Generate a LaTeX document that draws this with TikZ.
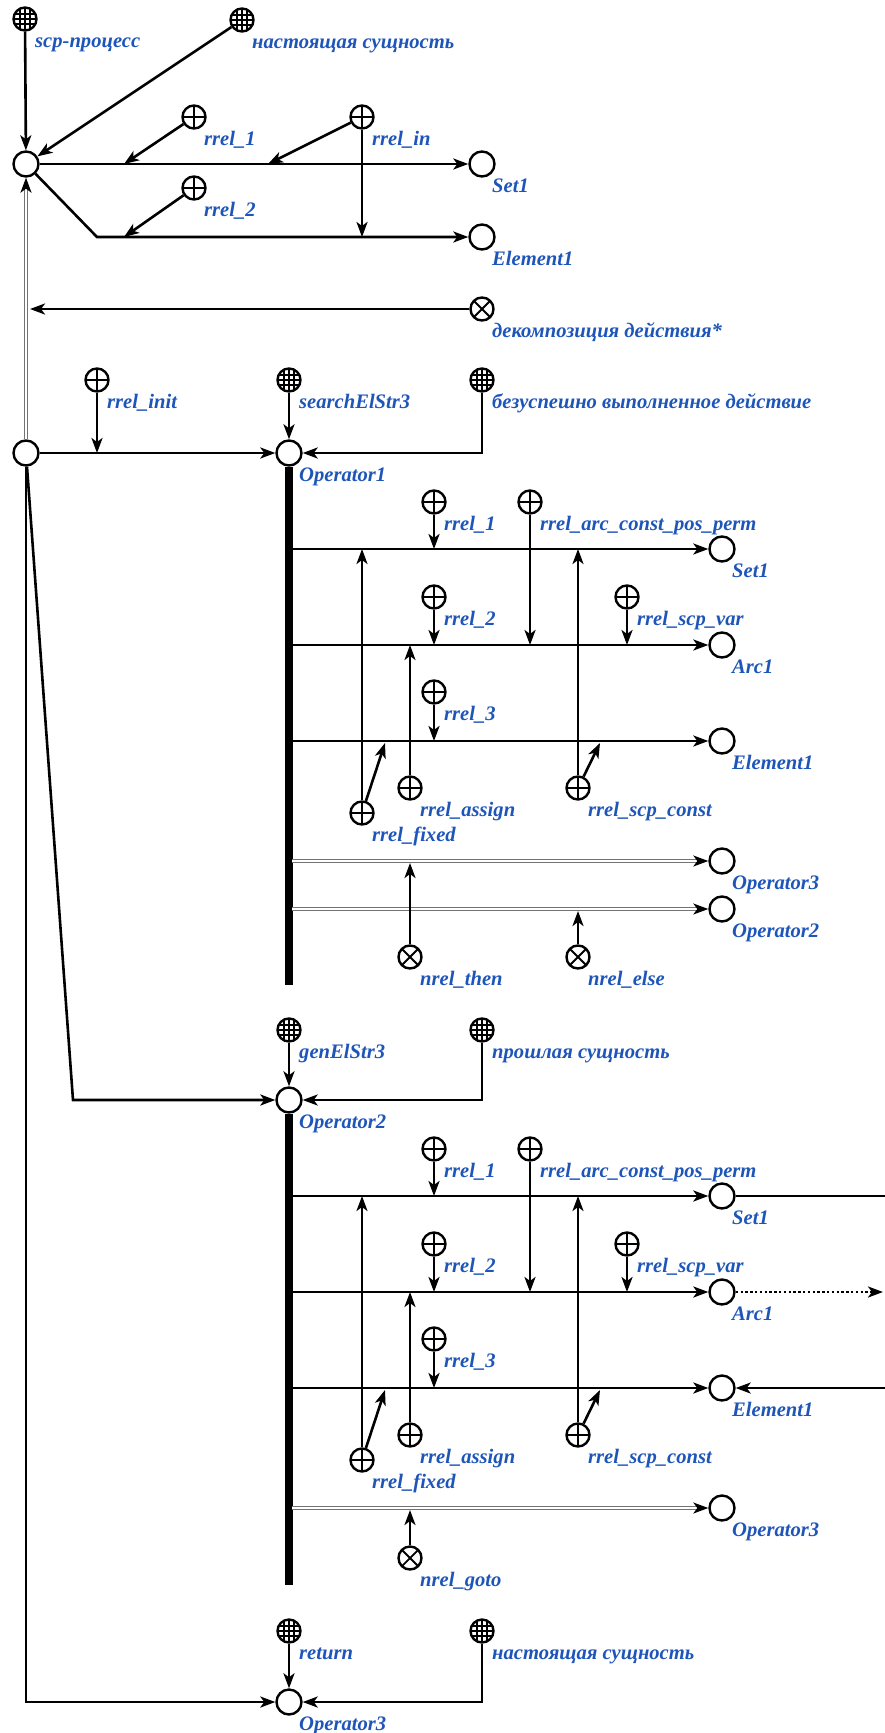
\documentclass[tikz,border=0pt]{standalone}
\usepackage{fontspec}
\setmainfont{Liberation Serif}
\usetikzlibrary{arrows.meta,calc}
\definecolor{scblue}{RGB}{30,85,185}
\newcommand\SC[5]{\node[#1] (#2) at (#3,#4) {}; \node[lbl] (#2-l) at ([shift={(10,28)}]#2.center) {#5};}
\begin{document}
\begin{tikzpicture}[x=1pt,y=-1pt,
  >={Stealth[length=15pt,width=11pt,inset=4pt]},
  arc/.style={line width=2.6pt,->},
  ln/.style={line width=2.6pt},
  dbl/.style={draw=black!55, line width=1.5pt, double=white, double distance=1.8pt,
     -{Stealth[length=15pt,width=11pt,inset=4pt,color=black]}},
  bus/.style={line width=7.5pt},
  dots/.style={line width=2.6pt, dash pattern=on 2.4pt off 2.4pt, ->},
  vnode/.style={circle, draw, line width=2.4pt, fill=white, minimum size=25pt, inner sep=0pt},
  cls/.style={vnode, minimum size=23pt, path picture={
     \foreach \d in {-5,0,5}{
       \draw[line width=1.1pt] ([xshift=\d pt]path picture bounding box.north) -- ([xshift=\d pt]path picture bounding box.south);
       \draw[line width=1.1pt] ([yshift=\d pt]path picture bounding box.west) -- ([yshift=\d pt]path picture bounding box.east);}}},
  role/.style={vnode, minimum size=23pt, path picture={
       \draw[line width=1.8pt] (path picture bounding box.north) -- (path picture bounding box.south);
       \draw[line width=1.8pt] (path picture bounding box.west) -- (path picture bounding box.east);}},
  nrole/.style={vnode, minimum size=23pt, path picture={
       \draw[line width=1.8pt] (path picture bounding box.north west) -- (path picture bounding box.south east);
       \draw[line width=1.8pt] (path picture bounding box.south west) -- (path picture bounding box.north east);}},
  lbl/.style={font=\fontsize{20.6}{23}\selectfont\bfseries\itshape, text=scblue, inner sep=0pt, anchor=base west}
]
\useasboundingbox (0,0) rectangle (884,1733);
% ---------- top ----------
\SC{cls}{scpproc}{25}{19}{scp-процесс}
\SC{cls}{cur1}{242}{20}{настоящая сущность}
\node[vnode] (proc) at (26,164) {};
\SC{role}{r1a}{194}{117}{rrel\_1}
\SC{role}{rin}{362}{117}{rrel\_in}
\SC{vnode}{set0}{482}{164}{Set1}
\SC{role}{r2a}{194}{188}{rrel\_2}
\SC{vnode}{el0}{482}{237}{Element1}
\SC{nrole}{decomp}{482}{309}{декомпозиция действия*}
\node[vnode] (dec) at (26,453) {};
% ---------- block 1 ----------
\SC{role}{rinit}{97}{380}{rrel\_init}
\SC{cls}{sES}{289}{380}{searchElStr3}
\SC{cls}{fail}{482}{380}{безуспешно выполненное действие}
\SC{vnode}{op1}{289}{453}{Operator1}
\SC{role}{b1r1}{434}{502}{rrel\_1}
\SC{role}{b1rac}{530}{502}{rrel\_arc\_const\_pos\_perm}
\SC{vnode}{b1set}{722}{549}{Set1}
\SC{role}{b1r2}{434}{597}{rrel\_2}
\SC{role}{b1rsv}{627}{597}{rrel\_scp\_var}
\SC{vnode}{b1arc}{722}{645}{Arc1}
\SC{role}{b1r3}{434}{692}{rrel\_3}
\SC{vnode}{b1el}{722}{741}{Element1}
\SC{role}{b1rfix}{362}{813}{rrel\_fixed}
\SC{role}{b1rasg}{410}{788}{rrel\_assign}
\SC{role}{b1rsc}{578}{788}{rrel\_scp\_const}
\SC{vnode}{b1op3}{722}{861}{Operator3}
\SC{vnode}{b1op2}{722}{909}{Operator2}
\SC{nrole}{then}{410}{957}{nrel\_then}
\SC{nrole}{else}{578}{957}{nrel\_else}
% ---------- block 2 ----------
\SC{cls}{gES}{289}{1030}{genElStr3}
\SC{cls}{past}{482}{1030}{прошлая сущность}
\SC{vnode}{op2}{289}{1100}{Operator2}
\SC{role}{b2r1}{434}{1149}{rrel\_1}
\SC{role}{b2rac}{530}{1149}{rrel\_arc\_const\_pos\_perm}
\SC{vnode}{b2set}{722}{1196}{Set1}
\SC{role}{b2r2}{434}{1244}{rrel\_2}
\SC{role}{b2rsv}{627}{1244}{rrel\_scp\_var}
\SC{vnode}{b2arc}{722}{1292}{Arc1}
\SC{role}{b2r3}{434}{1339}{rrel\_3}
\SC{vnode}{b2el}{722}{1388}{Element1}
\SC{role}{b2rfix}{362}{1460}{rrel\_fixed}
\SC{role}{b2rasg}{410}{1435}{rrel\_assign}
\SC{role}{b2rsc}{578}{1435}{rrel\_scp\_const}
\SC{vnode}{b2op3}{722}{1508}{Operator3}
\SC{nrole}{goto}{410}{1558}{nrel\_goto}
% ---------- block 3 ----------
\SC{cls}{ret}{289}{1631}{return}
\SC{cls}{cur2}{482}{1631}{настоящая сущность}
\SC{vnode}{op3}{289}{1702}{Operator3}
% ---------- coordinates ----------
\coordinate (t1) at (124,164);
\coordinate (t2) at (268,164);
\coordinate (cE) at (97,237);
\coordinate (t3) at (124,237);
\coordinate (decT) at (30,309);
\coordinate (c2) at (73,1100);
\coordinate (c3) at (26,1702);
\coordinate (bus1e) at (289,985);
\coordinate (bus2e) at (289,1585);
\coordinate (b1s0) at (292,549);
\coordinate (b1a0) at (292,645);
\coordinate (b1e0) at (292,741);
\coordinate (b1o30) at (292,861);
\coordinate (b1o20) at (292,909);
\coordinate (b1fx) at (385,743);
\coordinate (b1sc) at (600,743);
\coordinate (b2s0) at (292,1196);
\coordinate (b2a0) at (292,1292);
\coordinate (b2e0) at (292,1388);
\coordinate (b2o30) at (292,1508);
\coordinate (b2fx) at (385,1390);
\coordinate (b2sc) at (600,1390);
\coordinate (edgeS) at (886,1196);
\coordinate (edgeA) at (883,1292);
\coordinate (edgeE) at (886,1388);
% ---------- top edges ----------
\draw[arc] (scpproc) -- (proc);
\draw[arc] (cur1) -- (proc);
\draw[arc] (proc) -- (set0);
\draw[arc] (r1a) -- (t1);
\draw[arc] (rin) -- (t2);
\draw[arc] (proc) -- (cE) -- (el0);
\draw[arc] (r2a) -- (t3);
\draw[arc] (rin) -- (rin |- el0);
\draw[dbl] (dec) -- (proc);
\draw[arc] (decomp) -- (decT);
% ---------- block 1 edges ----------
\draw[arc] (dec) -- (op1);
\draw[arc] (rinit) -- (rinit |- op1);
\draw[arc] (sES) -- (op1);
\draw[arc] (fail) -- (fail |- op1) -- (op1);
\draw[bus] (op1.south) -- (bus1e);
\draw[arc] (b1s0) -- (b1set);
\draw[arc] (b1a0) -- (b1arc);
\draw[arc] (b1e0) -- (b1el);
\draw[dbl] (b1o30) -- (b1op3);
\draw[dbl] (b1o20) -- (b1op2);
\draw[arc] (b1r1) -- (b1r1 |- b1set);
\draw[arc] (b1rac) -- (b1rac |- b1arc);
\draw[arc] (b1r2) -- (b1r2 |- b1arc);
\draw[arc] (b1rsv) -- (b1rsv |- b1arc);
\draw[arc] (b1r3) -- (b1r3 |- b1el);
\draw[arc] (b1rfix) -- (b1rfix |- b1set);
\draw[arc] (b1rfix) -- (b1fx);
\draw[arc] (b1rasg) -- (b1rasg |- b1arc);
\draw[arc] (b1rsc) -- (b1rsc |- b1set);
\draw[arc] (b1rsc) -- (b1sc);
\draw[arc, shorten >=2pt] (then) -- (then |- b1op3);
\draw[arc, shorten >=2pt] (else) -- (else |- b1op2);
% ---------- block 2 edges ----------
\draw[arc] (dec) -- (c2) -- (op2);
\draw[arc] (gES) -- (op2);
\draw[arc] (past) -- (past |- op2) -- (op2);
\draw[bus] (op2.south) -- (bus2e);
\draw[arc] (b2s0) -- (b2set);
\draw[arc] (b2a0) -- (b2arc);
\draw[arc] (b2e0) -- (b2el);
\draw[dbl] (b2o30) -- (b2op3);
\draw[arc] (b2r1) -- (b2r1 |- b2set);
\draw[arc] (b2rac) -- (b2rac |- b2arc);
\draw[arc] (b2r2) -- (b2r2 |- b2arc);
\draw[arc] (b2rsv) -- (b2rsv |- b2arc);
\draw[arc] (b2r3) -- (b2r3 |- b2el);
\draw[arc] (b2rfix) -- (b2rfix |- b2set);
\draw[arc] (b2rfix) -- (b2fx);
\draw[arc] (b2rasg) -- (b2rasg |- b2arc);
\draw[arc] (b2rsc) -- (b2rsc |- b2set);
\draw[arc] (b2rsc) -- (b2sc);
\draw[arc, shorten >=2pt] (goto) -- (goto |- b2op3);
\draw[ln] (b2set) -- (edgeS);
\draw[dots] (b2arc) -- (edgeA);
\draw[arc] (edgeE) -- (b2el);
% ---------- block 3 edges ----------
\draw[arc] (dec) -- (c3) -- (op3);
\draw[arc] (ret) -- (op3);
\draw[arc] (cur2) -- (cur2 |- op3) -- (op3);
\end{tikzpicture}
\end{document}
